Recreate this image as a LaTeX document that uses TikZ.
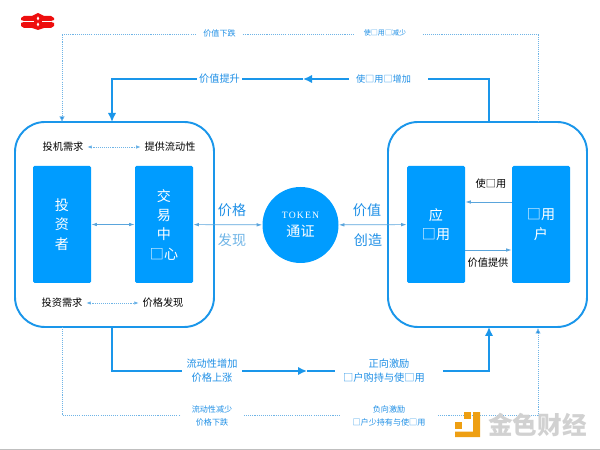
\documentclass[tikz,border=0pt]{standalone}
\usepackage{fontspec}
\usepackage{xcolor}
\usetikzlibrary{arrows.meta}
\setmainfont{Noto Sans CJK SC}
\newfontfamily\tokenfont[LetterSpace=12]{Liberation Serif}
\definecolor{boxc}{HTML}{009CFF}
\definecolor{framec}{HTML}{1A96EA}
\definecolor{labelc}{HTML}{1E8FE6}
\definecolor{paleC}{HTML}{6FB4E6}
\definecolor{linkc}{HTML}{5AA5DC}
\definecolor{logoc}{HTML}{EE0E0E}
\definecolor{coinc}{HTML}{EE9F12}
\tikzset{
  frame/.style={draw=framec, line width=1.1pt, rounded corners=6mm, minimum width=39.8mm, minimum height=41mm, inner sep=0pt},
  unit/.style={fill=boxc, text=white, rounded corners=0.3mm, minimum width=11.6mm, minimum height=23.4mm, inner sep=0pt, align=center, font=\fontsize{8}{11}\selectfont},
  thick flow/.style={draw=framec, line width=1.1pt},
  thin flow/.style={draw=paleC, line width=0.4pt, dash pattern=on 0.6pt off 0.6pt},
  link/.style={draw=linkc, line width=0.4pt, {Latex[length=1.1mm,width=0.7mm]}-{Latex[length=1.1mm,width=0.7mm]}},
  onelink/.style={draw=linkc, line width=0.4pt, -{Latex[length=1.1mm,width=0.7mm]}},
  bigtip/.style={-{Latex[length=1.8mm,width=1.7mm]}},
  smalltip/.style={-{Latex[length=1.1mm,width=1.1mm,fill=labelc]}},
  blacklabel/.style={text=black, inner sep=0.7mm, font=\fontsize{5.8}{7}\selectfont},
  flowlabel/.style={fill=white, text=labelc, inner sep=0.5mm, align=center, font=\fontsize{5.8}{8}\selectfont},
  faintlabel/.style={fill=white, text=labelc, inner sep=0.5mm, align=center, font=\fontsize{4.6}{7}\selectfont},
  sidelabel/.style={inner sep=0pt, font=\fontsize{8}{10}\selectfont},
}
\begin{document}
\begin{tikzpicture}[x=0.2mm, y=-0.2mm]
\useasboundingbox (0,0) rectangle (600,450);
\draw[black!25, line width=0.5pt] (0,449.5) -- (600,449.5);

\node[frame] (market) at (114.5,224.5) {};
\node[frame] (product) at (487.5,224.5) {};
\node[unit] (investor) at (62,224.5) {投\\资\\者};
\node[unit] (exchange) at (164,224.5) {交\\易\\中\\□心};
\node[unit] (app) at (436,224.5) {应\\□用};
\node[unit] (user) at (541,224.5) {□用\\户};
\node[circle, fill=boxc, text=white, minimum size=15.2mm, inner sep=0pt, align=center, font=\fontsize{8}{10}\selectfont] (token) at (300.5,225) {{\tokenfont\fontsize{5.5}{7}\selectfont TOKEN}\\[0.2mm]通证};

\node[blacklabel] (speculate) at (63,147) {投机需求};
\node[blacklabel] (liquid) at (170,147) {提供流动性};
\node[blacklabel] (invest) at (62,303) {投资需求};
\node[blacklabel] (discover) at (163,303) {价格发现};
\node[blacklabel] (useit) at (491,184) {使□用};
\node[blacklabel] (valuegive) at (488,263) {价值提供};
\node[sidelabel, text=labelc] at (232,210) (price) {价格};
\node[sidelabel, text=paleC] at (232,240) (found) {发现};
\node[sidelabel, text=labelc] at (367,210) (worth) {价值};
\node[sidelabel, text=labelc] at (368,240) (create) {创造};

\draw[link] (investor) -- (exchange);
\draw[link] (exchange) -- (token);
\draw[link] (token) -- (app);
\draw[thin flow, {Latex[length=0.9mm,width=0.7mm,fill=labelc]}-{Latex[length=0.9mm,width=0.7mm,fill=labelc]}] (speculate) -- (speculate -| liquid.west);
\draw[thin flow, {Latex[length=0.9mm,width=0.7mm,fill=labelc]}-{Latex[length=0.9mm,width=0.7mm,fill=labelc]}] (invest) -- (discover);
\draw[onelink] ([yshift=4.5mm]user.west) -- ([yshift=4.5mm]app.east);
\draw[onelink] ([yshift=-5.1mm]app.east) -- ([yshift=-5.1mm]user.west);

\coordinate (marketin) at (112,122);
\coordinate (marketout) at (112,327);
\coordinate (productout) at (489,122);
\coordinate (productin) at (489,327);
\coordinate (marketfaint) at (62,122);
\coordinate (marketdrop) at (62,327);
\coordinate (productfaint) at (538,122);
\coordinate (productrise) at (538,328);
\coordinate (topmid) at (303,79);
\coordinate (lowmid) at (307,371);

\draw[thick flow, bigtip] (productout) |- (topmid);
\draw[thick flow, bigtip] (topmid) -| (marketin);
\draw[thick flow, bigtip] (marketout) |- (lowmid);
\draw[thick flow, bigtip] (lowmid) -| (productin);
\draw[thin flow, smalltip] (productfaint) |- (62,34) -- (marketfaint);
\draw[thin flow, smalltip] (marketdrop) |- (538,415) -- (productrise);

\node[flowlabel] (valueup) at (219.5,79) {价值提升};
\node[flowlabel, inner xsep=1.4mm, font=\fontsize{5.2}{8}\selectfont] (useup) at (388.5,79) {使□用□增加\kern2mm};
\node[faintlabel, inner xsep=1.2mm] (valuedown) at (219.5,33) {价值下跌};
\node[faintlabel, inner xsep=2mm, font=\fontsize{4}{7}\selectfont] (usedown) at (388.5,33) {使□用□减少\kern1.4mm};
\node[flowlabel, inner xsep=0.9mm] (liquidup) at (212,370.5) {流动性增加\\价格上涨};
\node[flowlabel, inner xsep=1.6mm] (goodpush) at (389,371) {正向激励\\□户购持与使□用\kern2mm};
\node[faintlabel, inner xsep=2.2mm] (liquiddown) at (212,416) {流动性减少\\价格下跌};
\node[faintlabel, inner xsep=2.6mm] (badpush) at (389,416) {负向激励\\□户少持有与使□用};

\fill[logoc] (24,16) -- (32,16) -- (38,13) -- (44,16) -- (51,16) -- (54,18) -- (54,20) -- (51,21) -- (51,22) -- (54,23) -- (54,26) -- (51,28) -- (44,28) -- (38,30) -- (32,28) -- (24,28) -- (21,26) -- (21,23) -- (24,22) -- (24,21) -- (21,20) -- (21,18) -- cycle;
\fill[white] (24,21) rectangle (34,22);
\fill[white] (42,21) rectangle (51,22);
\fill[white] (38,16.5) -- (39.2,18.5) -- (38,20.5) -- (36.8,18.5) -- cycle;
\fill[white] (38,22.5) -- (39.2,24.5) -- (38,26.5) -- (36.8,24.5) -- cycle;

\fill[coinc] (473,412) -- (480,412) -- (480,437) -- (455,437) -- (455,431.5) -- (473,431.5) -- cycle;
\fill[coinc] (455,422) rectangle (462,428.5);
\fill[coinc] (464,412) rectangle (471,419);
\node[text=black!18, inner sep=0pt, font=\fontsize{14}{16}\selectfont\bfseries] (brand) at (537.5,425) {金色财经};
\end{tikzpicture}
\end{document}
